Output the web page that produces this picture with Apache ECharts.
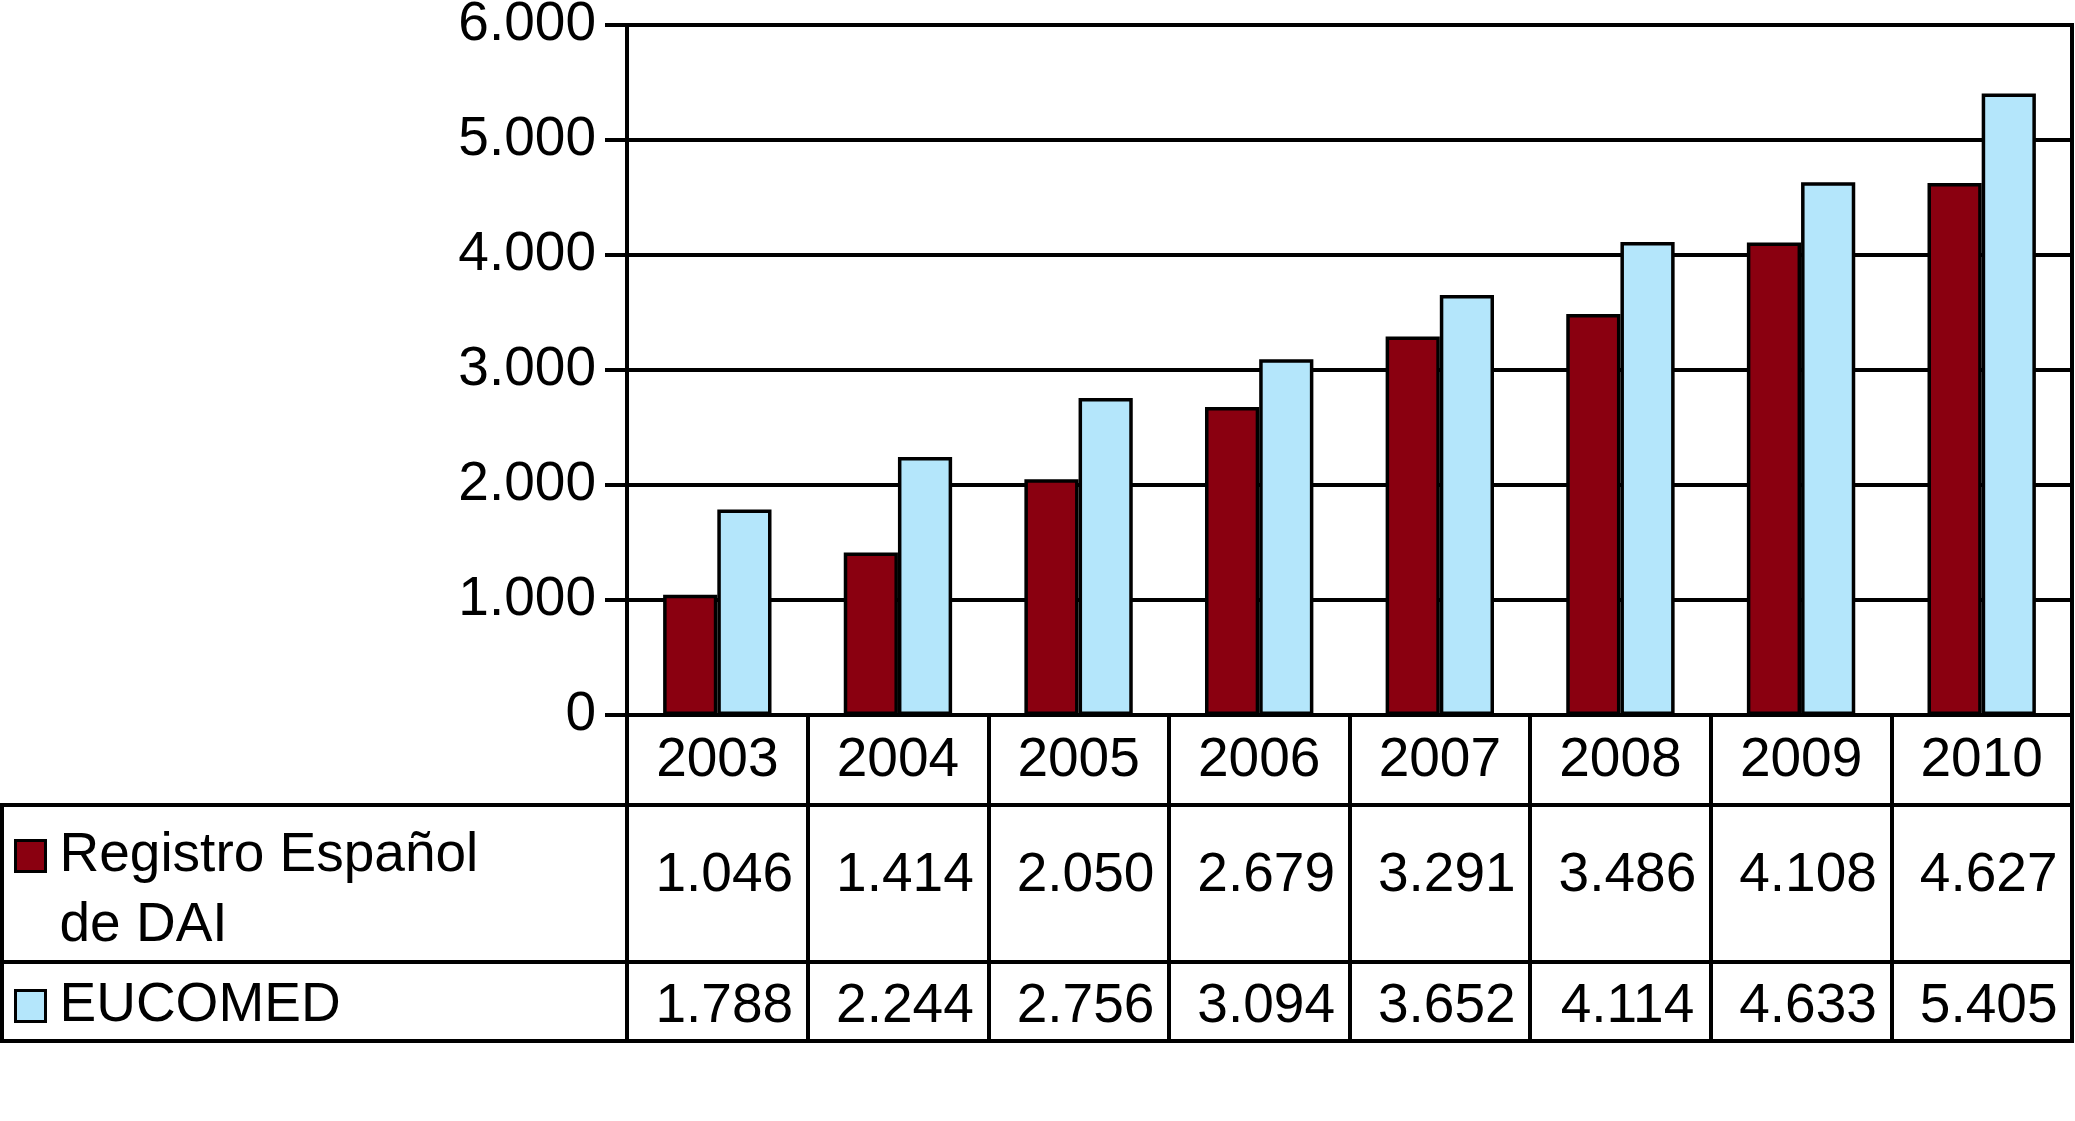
<!DOCTYPE html>
<html>
<head>
<meta charset="utf-8">
<script src="https://cdn.jsdelivr.net/npm/echarts@6/dist/echarts.min.js"></script>
<style>
html,body{margin:0;padding:0;background:#fff;}
#chart{width:2075px;height:1121px;}
</style>
</head>
<body>
<div id="chart"></div>
<script>
// ---- data ----
const years = ['2003','2004','2005','2006','2007','2008','2009','2010'];
const registroName = 'Registro Español de DAI';
const registro = [1046, 1414, 2050, 2679, 3291, 3486, 4108, 4627];
const eucomedName = 'EUCOMED';
const eucomed = [1788, 2244, 2756, 3094, 3652, 4114, 4633, 5405];
const yTicks = [0, 1000, 2000, 3000, 4000, 5000, 6000];

// ---- layout ----
const W = 2075, H = 1121;
const GL = 627, GR = 2072, GT = 25, GB = 715;
const ROW1_BOTTOM = 805, ROW2_BOTTOM = 962, ROW3_BOTTOM = 1041;
const FONT = "'Liberation Sans', Arial, Helvetica, sans-serif";
const FS = 55;
const LW = 4;

function fmt(v){ return String(v).replace(/\B(?=(\d{3})+(?!\d))/g, '.'); }

const chart = echarts.init(document.getElementById('chart'), null, {renderer:'canvas'});
const black = '#000';
const tableLine = {stroke: black, lineWidth: LW};

const option = {
  backgroundColor: '#fff',
  animation: false,
  textStyle: {fontFamily: FONT},
  grid: {
    left: GL, right: W - GR, top: GT, bottom: H - GB,
    containLabel: false, outerBoundsMode: 'none',
    show: true, borderColor: black, borderWidth: LW, backgroundColor: 'transparent'
  },
  legend: [
    {
      data: [registroName], left: 14, top: 751, padding: 0,
      orient: 'vertical', selectedMode: false,
      icon: 'rect', itemWidth: 30, itemHeight: 31,
      itemStyle: {borderColor: black, borderWidth: 3},
      formatter: () => ' \nRegistro Español\nde DAI',
      textStyle: {fontSize: FS, lineHeight: 70, color: black, fontFamily: FONT, padding: [0, 0, 0, 9]}
    },
    {
      data: [eucomedName], left: 14, top: 971, padding: 0,
      orient: 'vertical', selectedMode: false,
      icon: 'rect', itemWidth: 30, itemHeight: 31,
      itemStyle: {borderColor: black, borderWidth: 3},
      textStyle: {fontSize: FS, lineHeight: 70, color: black, fontFamily: FONT, padding: [0, 0, 0, 9]}
    }
  ],
  xAxis: [
    {
      type: 'category', data: years, position: 'bottom',
      axisLine: {show: true, lineStyle: {color: black, width: LW}},
      axisTick: {show: true, length: ROW3_BOTTOM - GB, inside: false, alignWithLabel: false,
                 lineStyle: {color: black, width: LW}},
      axisLabel: {interval: 0, fontSize: FS, color: black, fontFamily: FONT,
                  margin: (ROW1_BOTTOM - GB) / 2 + 1, verticalAlign: 'middle', lineHeight: 60},
      splitLine: {show: false}
    },
    {
      type: 'category', data: registro.map(fmt), position: 'bottom',
      axisLine: {show: false}, axisTick: {show: false}, splitLine: {show: false},
      axisLabel: {interval: 0, fontSize: FS, color: black, fontFamily: FONT,
                  margin: 161, verticalAlign: 'middle', lineHeight: 60, padding: [0, 0, 0, 14]}
    },
    {
      type: 'category', data: eucomed.map(fmt), position: 'bottom',
      axisLine: {show: false}, axisTick: {show: false}, splitLine: {show: false},
      axisLabel: {interval: 0, fontSize: FS, color: black, fontFamily: FONT,
                  margin: 292, verticalAlign: 'middle', lineHeight: 60, padding: [0, 0, 0, 14]}
    }
  ],
  yAxis: {
    type: 'value', min: yTicks[0], max: yTicks[yTicks.length - 1], interval: 1000,
    axisLine: {show: true, lineStyle: {color: black, width: LW}},
    axisTick: {show: true, length: 22, inside: false, lineStyle: {color: black, width: LW}},
    axisLabel: {fontSize: FS, color: black, fontFamily: FONT, margin: 31, formatter: v => fmt(v),
                padding: [6, 0, 0, 0]},
    splitLine: {show: true, lineStyle: {color: black, width: LW}}
  },
  series: [
    {
      name: registroName, type: 'bar', data: registro, xAxisIndex: 0,
      barGap: '0%', barCategoryGap: '40%',
      itemStyle: {color: '#8A0010', borderColor: black, borderWidth: 3.5}
    },
    {
      name: eucomedName, type: 'bar', data: eucomed, xAxisIndex: 0,
      barGap: '0%', barCategoryGap: '40%',
      itemStyle: {color: '#B4E6FB', borderColor: black, borderWidth: 3.5}
    }
  ],
  graphic: [
    {type: 'line', shape: {x1: 0, y1: ROW1_BOTTOM, x2: GR, y2: ROW1_BOTTOM}, style: tableLine, silent: true},
    {type: 'line', shape: {x1: 0, y1: ROW2_BOTTOM, x2: GR, y2: ROW2_BOTTOM}, style: tableLine, silent: true},
    {type: 'line', shape: {x1: 0, y1: ROW3_BOTTOM, x2: GR + LW / 2, y2: ROW3_BOTTOM}, style: tableLine, silent: true},
    {type: 'line', shape: {x1: LW / 2, y1: ROW1_BOTTOM, x2: LW / 2, y2: ROW3_BOTTOM}, style: tableLine, silent: true},
    {type: 'line', shape: {x1: GR, y1: GB, x2: GR, y2: ROW3_BOTTOM}, style: tableLine, silent: true}
  ]
};
chart.setOption(option);
</script>
</body>
</html>
